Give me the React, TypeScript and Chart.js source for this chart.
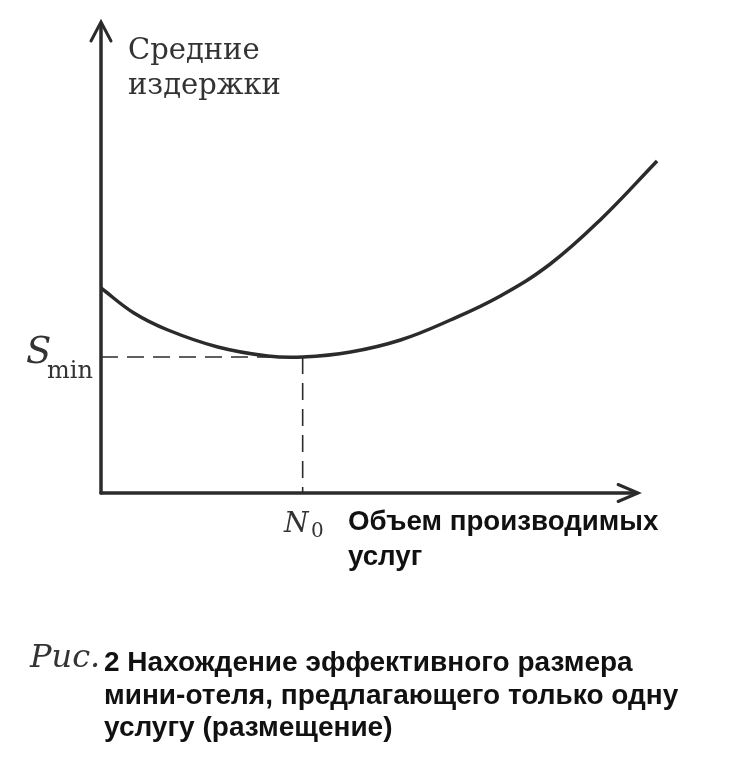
import React, { useEffect, useRef } from "react";
import { Chart, registerables } from "chart.js";

Chart.register(...registerables);

// Output volume (x) and average costs (y), arbitrary units
const volume = [0, 3.3, 6.7, 11.7, 16.7, 20.2, 25, 30, 35, 40, 45, 50, 55.7];
const avgCost = [20.5, 18.0, 16.3, 14.6, 13.7, 13.6, 14.1, 15.3, 17.3, 19.7, 22.9, 27.3, 33.2];
const sMin = 13.6;
const n0 = 20.2;
const xAxisEnd = 53.8;
const yAxisEnd = 47.1;
const xMax = 60;

const yLabelLines = ["Средние", "издержки"];
const xLabelLines = ["Объем производимых", "услуг"];
const captionPrefix = "Рис.";
const captionLines = [
  "2 Нахождение эффективного размера",
  "мини-отеля, предлагающего только одну",
  "услугу (размещение)",
];

const INK = "#2b2b2b";

const axesPlugin = {
  id: "axesArrows",
  beforeDatasetsDraw(chart: any) {
    const { ctx, scales } = chart;
    const xs = scales.x;
    const ys = scales.y;
    const x0 = xs.getPixelForValue(0);
    const y0 = ys.getPixelForValue(0);
    const xTip = xs.getPixelForValue(xAxisEnd);
    const yTip = ys.getPixelForValue(yAxisEnd);
    ctx.save();
    ctx.strokeStyle = INK;
    ctx.lineWidth = 3.5;
    ctx.lineCap = "round";
    ctx.lineJoin = "miter";
    // y axis
    ctx.beginPath();
    ctx.moveTo(x0, y0);
    ctx.lineTo(x0, yTip + 2);
    ctx.stroke();
    // x axis
    ctx.beginPath();
    ctx.moveTo(x0, y0);
    ctx.lineTo(xTip - 2, y0);
    ctx.stroke();
    // arrowheads
    ctx.lineWidth = 3;
    ctx.beginPath();
    ctx.moveTo(x0 - 10, yTip + 19);
    ctx.lineTo(x0, yTip);
    ctx.lineTo(x0 + 10, yTip + 19);
    ctx.stroke();
    ctx.beginPath();
    ctx.moveTo(xTip - 20, y0 - 8.5);
    ctx.lineTo(xTip, y0);
    ctx.lineTo(xTip - 20, y0 + 8.5);
    ctx.stroke();
    ctx.restore();
  },
};

function Txt(props: {
  x: number;
  baseline: number;
  size: number;
  family: string;
  italic?: boolean;
  bold?: boolean;
  color?: string;
  children: React.ReactNode;
}) {
  const { x, baseline, size, family, italic, bold, color, children } = props;
  return (
    <div
      style={{
        position: "absolute",
        left: x,
        top: baseline - 0.85 * size,
        fontSize: size,
        lineHeight: `${size}px`,
        fontFamily: family,
        fontStyle: italic ? "italic" : "normal",
        fontWeight: bold ? 700 : 400,
        color: color || "#111",
        whiteSpace: "nowrap",
      }}
    >
      {children}
    </div>
  );
}

export default function App() {
  const ref = useRef<HTMLCanvasElement | null>(null);

  useEffect(() => {
    if (!ref.current) return;
    const chart = new Chart(ref.current, {
      type: "scatter",
      data: {
        datasets: [
          {
            label: "Средние издержки",
            data: volume.map((v, i) => ({ x: v, y: avgCost[i] })),
            showLine: true,
            borderColor: INK,
            borderWidth: 3.5,
            pointRadius: 0,
            tension: 0.4,
          },
          {
            label: "Smin",
            data: [
              { x: 0, y: sMin },
              { x: n0, y: sMin },
            ],
            showLine: true,
            borderColor: INK,
            borderWidth: 1.6,
            borderDash: [17, 9],
            pointRadius: 0,
          },
          {
            label: "N0",
            data: [
              { x: n0, y: sMin },
              { x: n0, y: 0 },
            ],
            showLine: true,
            borderColor: INK,
            borderWidth: 1.6,
            borderDash: [17, 9],
            pointRadius: 0,
          },
        ],
      },
      options: {
        animation: false,
        responsive: false,
        maintainAspectRatio: false,
        layout: { padding: { left: 101, right: 50, top: 22, bottom: 284 } },
        plugins: { legend: { display: false }, tooltip: { enabled: false }, title: { display: false } },
        scales: {
          x: { type: "linear", min: 0, max: xMax, display: false },
          y: { type: "linear", min: 0, max: yAxisEnd, display: false },
        },
      },
      plugins: [axesPlugin],
    });
    return () => chart.destroy();
  }, []);

  const serif = "'DejaVu Serif', 'Liberation Serif', serif";
  const sans = "'Liberation Sans', Arial, sans-serif";

  return (
    <div style={{ position: "absolute", left: 0, top: 0, width: 750, height: 777, background: "#fff", overflow: "hidden" }}>
      <canvas ref={ref} width={750} height={777} style={{ position: "absolute", left: 0, top: 0, width: 750, height: 777 }} />
      <Txt x={128} baseline={60} size={29} family={serif} color="#333">{yLabelLines[0]}</Txt>
      <Txt x={128} baseline={95} size={29} family={serif} color="#333">{yLabelLines[1]}</Txt>
      <Txt x={26} baseline={363} size={37} family={serif} italic color="#333">S</Txt>
      <Txt x={47} baseline={378} size={24} family={serif} color="#333">min</Txt>
      <Txt x={284} baseline={533} size={28} family={serif} italic color="#333">N</Txt>
      <Txt x={311} baseline={537} size={20} family={serif} color="#333">0</Txt>
      <Txt x={348} baseline={531} size={27.7} family={sans} bold>{xLabelLines[0]}</Txt>
      <Txt x={348} baseline={566} size={27.7} family={sans} bold>{xLabelLines[1]}</Txt>
      <Txt x={30} baseline={667} size={32} family={serif} italic color="#333">{captionPrefix}</Txt>
      <Txt x={104} baseline={672} size={28} family={sans} bold>{captionLines[0]}</Txt>
      <Txt x={104} baseline={705} size={28} family={sans} bold>{captionLines[1]}</Txt>
      <Txt x={104} baseline={737} size={28} family={sans} bold>{captionLines[2]}</Txt>
    </div>
  );
}
